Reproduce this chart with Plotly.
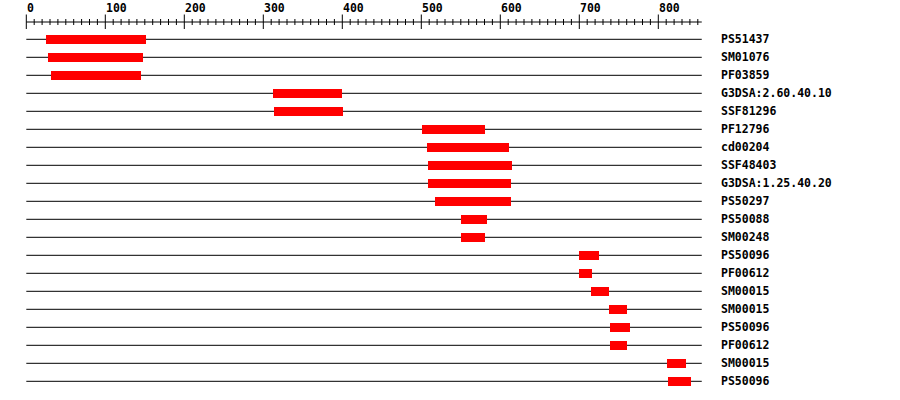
import plotly.graph_objects as go

# Domain hits along the protein sequence (residue positions)
labels = [
    "PS51437", "SM01076", "PF03859", "G3DSA:2.60.40.10", "SSF81296",
    "PF12796", "cd00204", "SSF48403", "G3DSA:1.25.40.20", "PS50297",
    "PS50088", "SM00248", "PS50096", "PF00612", "SM00015",
    "SM00015", "PS50096", "PF00612", "SM00015", "PS50096",
]
starts = [25, 28, 31, 312, 313, 501, 507, 508, 508, 517,
          550, 550, 700, 700, 715, 738, 739, 739, 811, 812]
ends = [152, 148, 145, 400, 401, 581, 611, 615, 614, 614,
        583, 581, 725, 716, 738, 760, 764, 760, 835, 842]
seq_length = 855
tick_labels = ["0", "100", "200", "300", "400", "500", "600", "700", "800"]

# pixel geometry -> data units
PX = 0.79          # pixels per residue
X0 = 26.3          # pixel of residue 0
ROW0 = 39.3        # pixel of first row
ROW_H = 18.0       # pixels between rows


def xr(px):
    return (px - X0) / PX


def yr(py):
    return (py - ROW0) / ROW_H


rows = list(range(len(labels)))
FONT = dict(family="DejaVu Sans Mono", size=11.5, color="black", weight="bold")

fig = go.Figure()

fig.add_trace(go.Bar(
    y=rows,
    x=[e - s for s, e in zip(starts, ends)],
    base=starts,
    orientation="h",
    width=0.5,
    marker=dict(color="#ff0000", line=dict(width=0)),
    hoverinfo="skip",
))

shapes = []
# backbone line for every row
for r in rows:
    shapes.append(dict(type="line", x0=0, x1=seq_length, y0=r, y1=r,
                       line=dict(color="black", width=1), layer="below"))

# ruler on top
axis_y = yr(22)
shapes.append(dict(type="line", x0=0, x1=seq_length, y0=axis_y, y1=axis_y,
                   line=dict(color="black", width=1)))
for t in range(0, seq_length + 1, 10):
    if t % 100 == 0:
        y0, y1 = yr(14.5), yr(29)
    else:
        y0, y1 = yr(19), yr(25)
    shapes.append(dict(type="line", x0=t, x1=t, y0=y0, y1=y1,
                       line=dict(color="black", width=1)))

annotations = []
for i, lab in enumerate(tick_labels):
    annotations.append(dict(x=i * 100, y=yr(7.5), text=lab, showarrow=False,
                            xanchor="left", yanchor="middle", xshift=-1,
                            font=FONT))
for r, lab in zip(rows, labels):
    annotations.append(dict(x=xr(719), y=r, text=lab, showarrow=False,
                            xanchor="left", yanchor="middle", font=FONT))

fig.update_layout(
    width=900, height=400,
    margin=dict(l=0, r=0, t=0, b=0),
    plot_bgcolor="white", paper_bgcolor="white",
    showlegend=False,
    shapes=shapes,
    annotations=annotations,
    xaxis=dict(range=[xr(0), xr(900)], visible=False, fixedrange=True),
    yaxis=dict(range=[yr(400), yr(0)], visible=False, fixedrange=True),
    bargap=0,
)

# drop the default body margin so the figure sits at the page corner
fig.write_html("out.html",
               config={"displayModeBar": False},
               post_script="document.body.style.margin='0';"
                           "document.body.style.overflow='hidden';")
